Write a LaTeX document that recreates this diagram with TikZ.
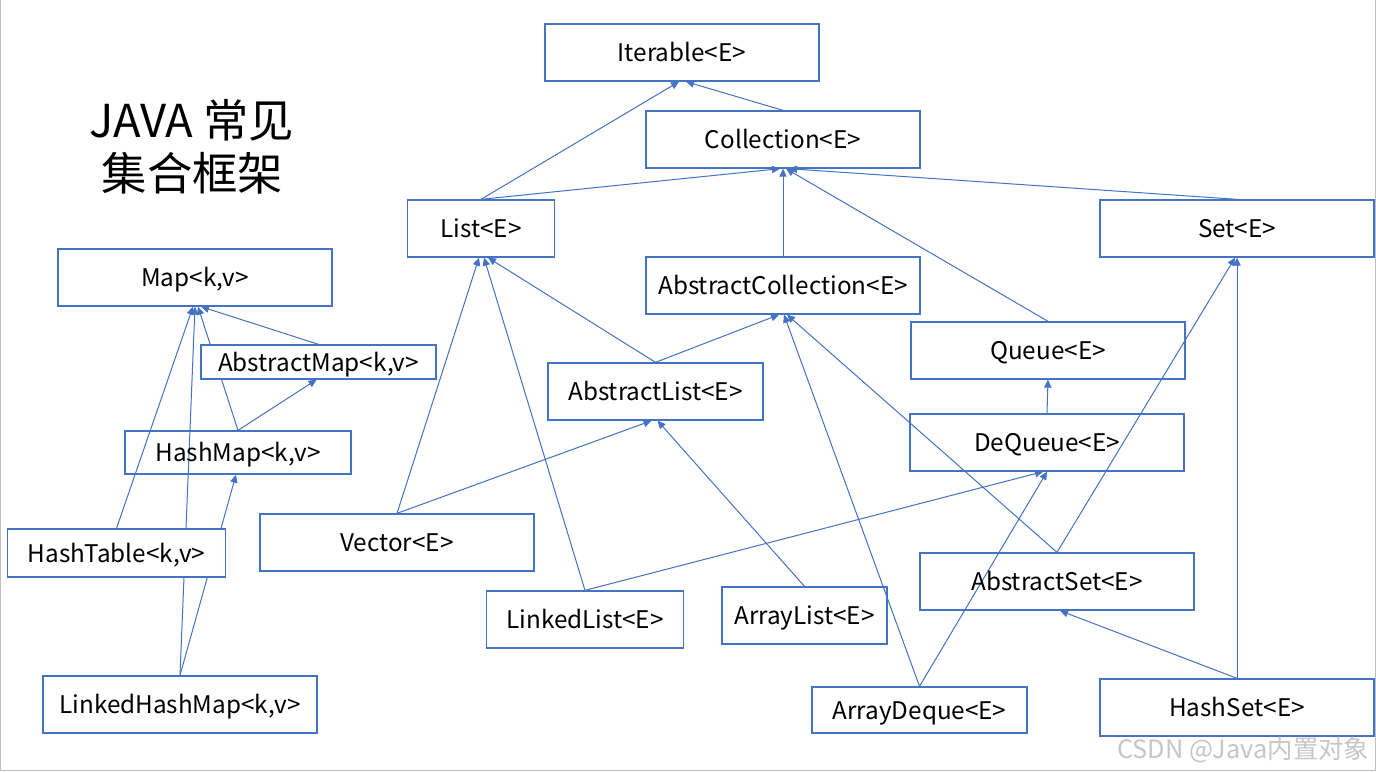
\documentclass[tikz,border=0pt]{standalone}
\usepackage{fontspec}
\setmainfont{Noto Sans CJK SC}
\usetikzlibrary{arrows.meta,calc,backgrounds}
\definecolor{edgeblue}{HTML}{4472C4}
\tikzset{
  box/.style={draw=edgeblue, line width=1pt, inner sep=0pt,
    font=\fontsize{18.2}{22}\selectfont, text height=14pt, text depth=0pt},
  sz/.style 2 args={minimum width=#1*0.75pt, minimum height=#2*0.75pt},
  opaque/.style={fill=white},
  link/.style={draw=edgeblue, line width=0.75pt, -{Triangle[length=6pt,width=5.5pt]}},
  titletext/.style={font=\fontsize{34}{40}\selectfont, anchor=base, inner sep=0pt},
}
\begin{document}
\begin{tikzpicture}[x=0.75pt,y=-0.75pt]
\useasboundingbox (0,0) rectangle (1376,772);
% title
\node[titletext] (t1) at (191.5,137) {JAVA 常见};
\node[titletext] (t2) at (192.5,190) {集合框架};
% collection side
\node[box,sz={274}{57}] (iter) at (682,52.5) {Iterable<E>};
\node[box,sz={274}{57}] (coll) at (783,139.5) {Collection<E>};
\node[box,sz={147}{57}] (list) at (481,228.5) {List<E>};
\node[box,sz={274}{57}] (set) at (1237,228.5) {Set<E>};
\node[box,sz={274}{57}] (acoll) at (783,285.5) {AbstractCollection<E>};
\node[box,sz={274}{57}] (queue) at (1048,350.5) {Queue<E>};
\node[box,sz={215}{57}] (alist) at (655.5,391.5) {AbstractList<E>};
\node[box,sz={274}{57}] (deque) at (1047,442.5) {DeQueue<E>};
\node[box,sz={274}{57}] (vec) at (397,542.5) {Vector<E>};
\node[box,sz={197}{57}] (llist) at (585,619.5) {LinkedList<E>};
\node[box,sz={165}{57}] (arrlist) at (804.5,615.5) {ArrayList<E>};
\node[box,sz={274}{57}] (aset) at (1057,581.5) {AbstractSet<E>};
\node[box,sz={215}{46}] (adeq) at (919.5,710) {ArrayDeque<E>};
\node[box,sz={274}{57}] (hset) at (1237,707.5) {HashSet<E>};
% map side
\node[box,sz={274}{57}] (map) at (195,277.5) {Map<k,v>};
\node[box,opaque,sz={235}{34}] (amap) at (318.5,362) {AbstractMap<k,v>};
\node[box,sz={226}{43}] (hmap) at (238,452.5) {HashMap<k,v>};
\node[box,opaque,sz={218}{48}] (htab) at (116.5,553) {HashTable<k,v>};
\node[box,sz={274}{57}] (lhmap) at (180,704.5) {LinkedHashMap<k,v>};
% watermark
\node[text=gray!45, font=\fontsize{19}{22}\selectfont, inner sep=0pt] (wm) at (1243,750) {CSDN @Java内置对象};
\begin{pgfonlayer}{background}
  \fill[white] (0,0) rectangle (1376,772);
  \draw[gray!50, line width=1pt] (0.5,0) -- (0.5,770.5) -- (1375.5,770.5) -- (1375.5,0);
  \draw[link] (list.north) -- ($(iter.south)+(-3,0)$);
  \draw[link] (coll.north) -- ($(iter.south)+(4,0)$);
  \draw[link] (list.north) -- ($(coll.south)+(-3,0)$);
  \draw[link] (acoll.north) -- (coll.south);
  \draw[link] (queue.north) -- ($(coll.south)+(3,0)$);
  \draw[link] (set.north) -- ($(coll.south)+(6,0)$);
  \draw[link] (alist.north) -- ($(list.south)+(7,0)$);
  \draw[link] (vec.north) -- ($(list.south)+(-2,0)$);
  \draw[link] (llist.north) -- ($(list.south)+(3,0)$);
  \draw[link] (alist.north) -- ($(acoll.south)+(-4,0)$);
  \draw[link] (aset.north) -- ($(acoll.south)+(4,0)$);
  \draw[link] (adeq.north) -- ($(acoll.south)+(1,0)$);
  \draw[link] (vec.north) -- ($(alist.south)+(-4,0)$);
  \draw[link] (arrlist.north) -- ($(alist.south)+(2,0)$);
  \draw[link] (llist.north) -- ($(deque.south)+(-4,0)$);
  \draw[link] (adeq.north) -- (deque.south);
  \draw[link] (deque.north) -- (queue.south);
  \draw[link] (aset.north) -- ($(set.south)+(-2,0)$);
  \draw[link] (hset.north) -- (set.south);
  \draw[link] (hset.north) -- ($(aset.south)+(3,0)$);
  \draw[link] (amap.north) -- ($(map.south)+(6,0)$);
  \draw[link] (hmap.north) -- ($(map.south)+(3,0)$);
  \draw[link] (htab.north) -- ($(map.south)+(-2,0)$);
  \draw[link] (lhmap.north) -- (map.south);
  \draw[link] (hmap.north) -- ($(amap.south)+(-2,0)$);
  \draw[link] (lhmap.north) -- ($(hmap.south)+(-2,0)$);
\end{pgfonlayer}
\end{tikzpicture}
\end{document}
